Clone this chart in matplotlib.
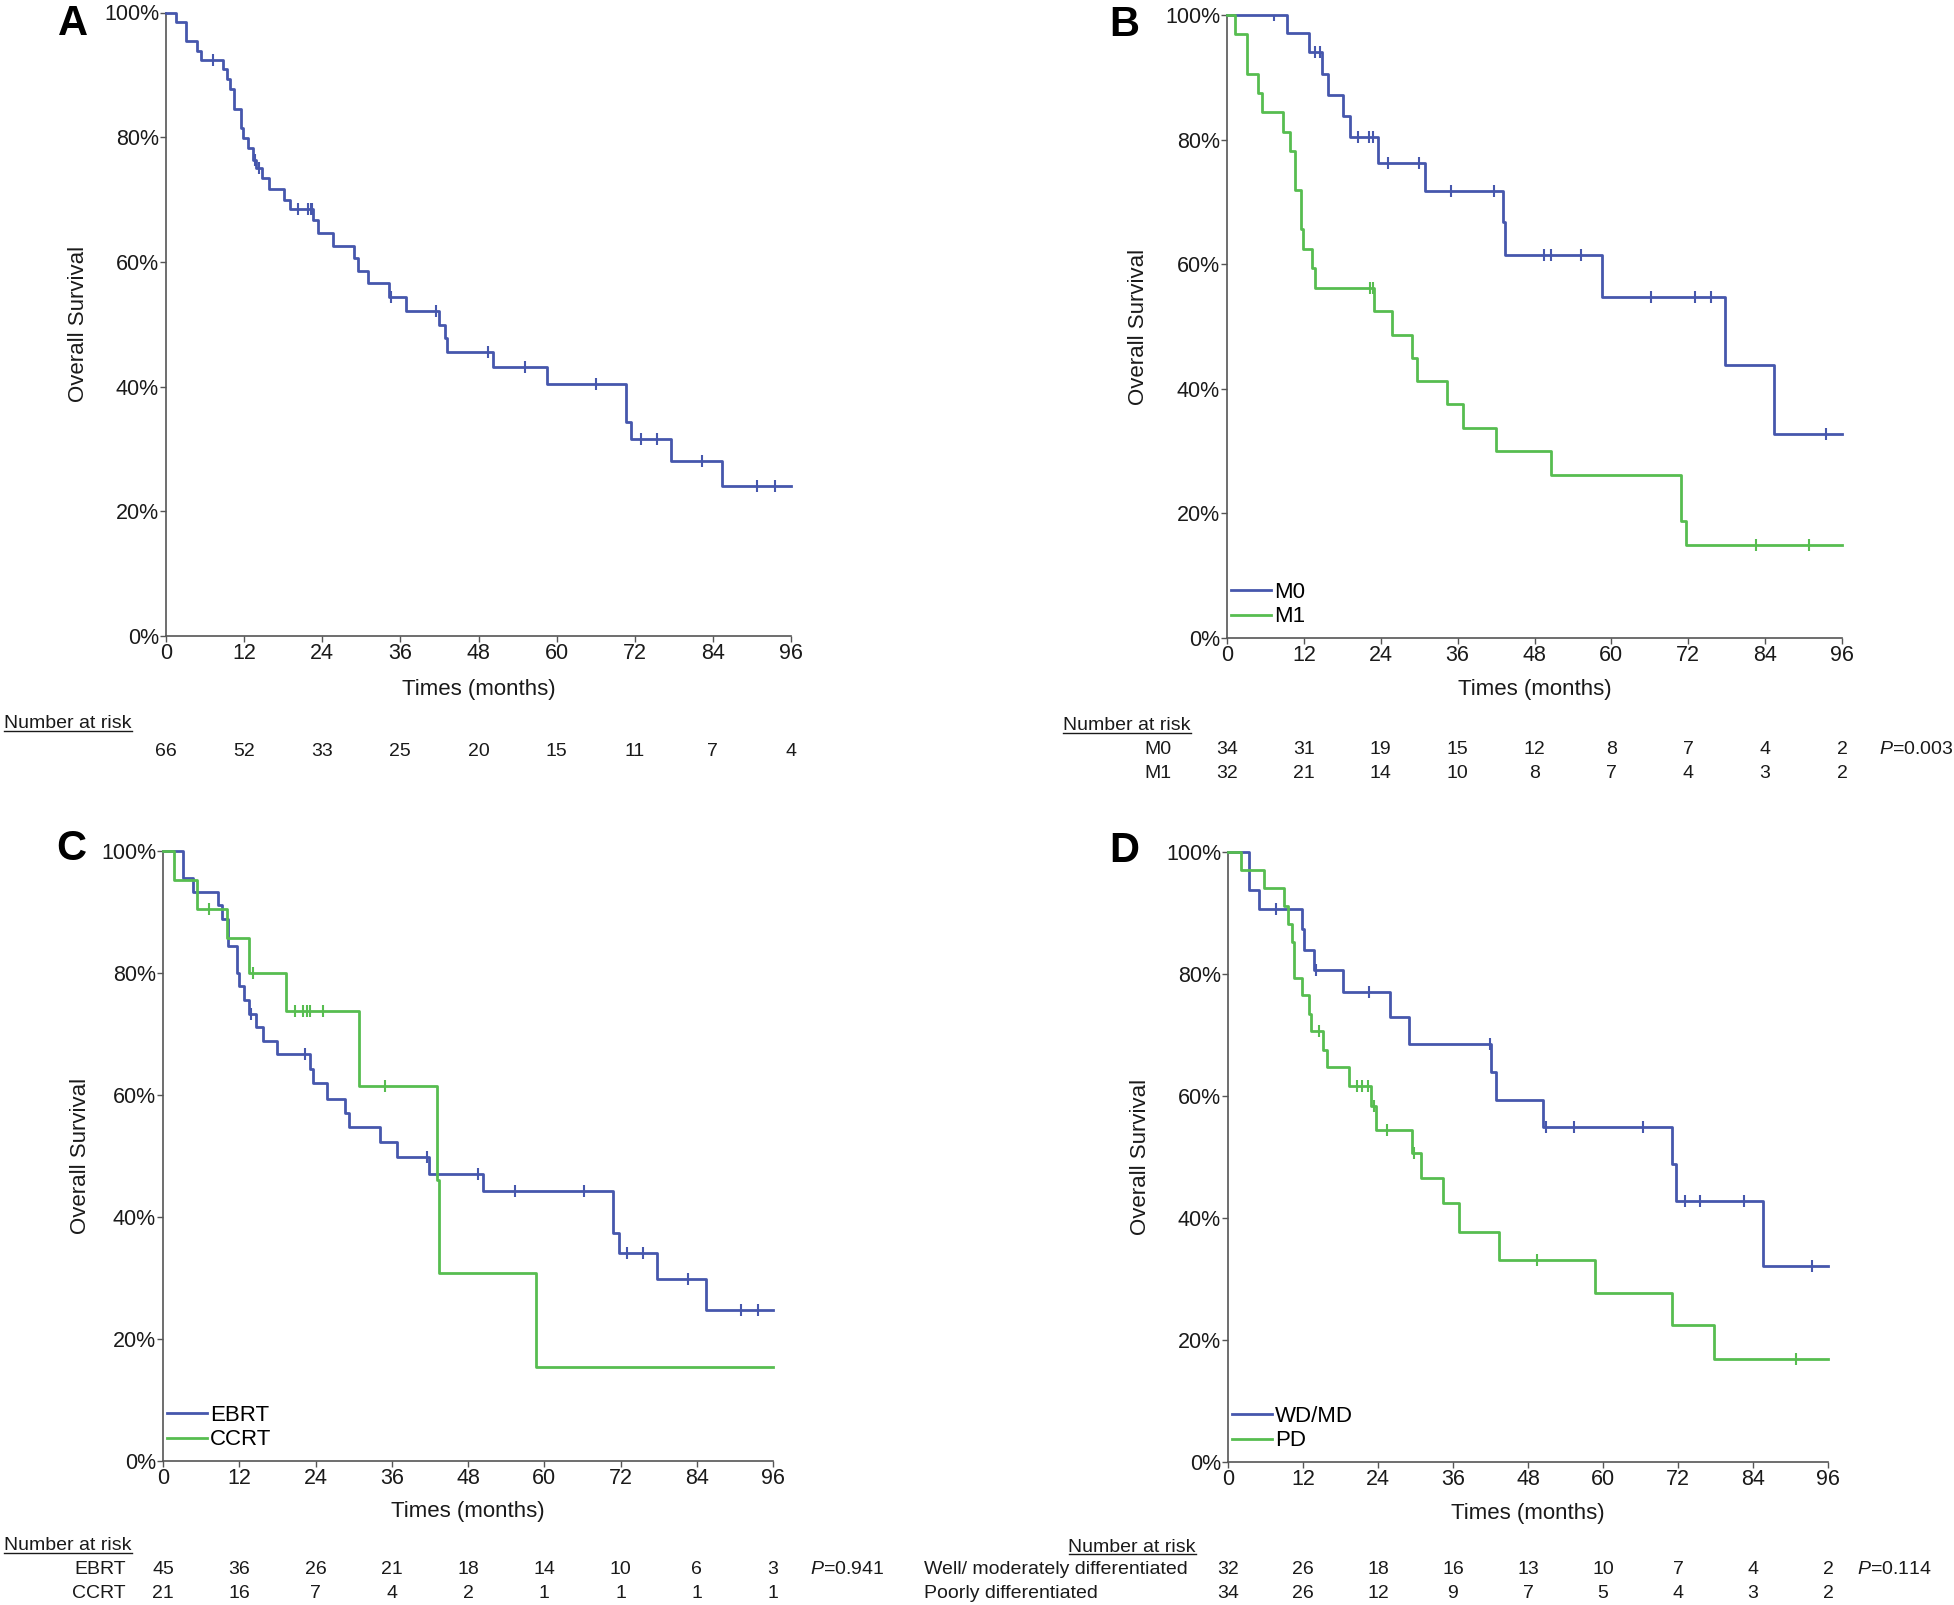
import numpy as np
import matplotlib.pyplot as plt
from matplotlib.transforms import blended_transform_factory
from matplotlib.lines import Line2D

plt.rcParams['font.family'] = ['Liberation Sans', 'DejaVu Sans']
plt.rcParams['mathtext.fontset'] = 'custom'
plt.rcParams['mathtext.it'] = 'Liberation Sans:italic'
plt.rcParams['mathtext.rm'] = 'Liberation Sans'

BLUE = '#4657ad'
GREEN = '#57bd50'

# ---- data (months, survival %) ----
months = [0, 12, 24, 36, 48, 60, 72, 84, 96]

# A: all patients
a_t = [0, 1.6, 3.1, 4.8, 5.4, 8.8, 9.4, 9.9, 10.4, 11.5, 11.9, 12.6, 13.4, 13.8, 14.8, 15.8,
       18.2, 19.0, 22.6, 23.4, 25.6, 28.9, 29.5, 31.0, 34.2, 36.9, 41.9, 42.8, 43.2, 50.3,
       58.5, 70.7, 71.5, 77.5, 85.4]
a_s = [100, 98.5, 95.5, 93.9, 92.4, 90.9, 89.3, 87.7, 84.5, 81.5, 79.8, 78.2, 76.4, 75.1, 73.5, 71.7,
       70.0, 68.5, 66.7, 64.6, 62.6, 60.6, 58.6, 56.6, 54.3, 52.2, 49.8, 47.8, 45.5, 43.1,
       40.4, 34.3, 31.6, 28.1, 24.0]
a_cens = [7.2, 13.6, 14.3, 20.2, 21.8, 22.2, 22.5, 34.6, 41.5, 49.5, 55.1, 66.1, 73.0, 75.4, 82.4, 90.8, 93.6]
a_risk = [66, 52, 33, 25, 20, 15, 11, 7, 4]

# B: M0 / M1
m0_t = [0, 9.4, 12.8, 14.9, 15.7, 18.1, 19.2, 23.5, 30.9, 43.1, 43.4, 58.5, 77.7, 85.4]
m0_s = [100, 97.1, 94.1, 90.6, 87.2, 83.8, 80.4, 76.3, 71.7, 66.8, 61.5, 54.7, 43.8, 32.8]
m0_cens = [7.4, 13.7, 14.5, 20.5, 22.1, 22.8, 25.2, 30.0, 35.0, 41.6, 49.5, 50.5, 55.3, 66.2, 73.1, 75.5, 93.5]
m1_t = [0, 1.3, 3.1, 4.9, 5.4, 8.8, 9.9, 10.6, 11.5, 11.9, 13.3, 13.7, 23.0, 25.8, 28.8, 29.6,
        34.4, 36.8, 42.0, 50.5, 70.9, 71.6]
m1_s = [100, 96.9, 90.6, 87.5, 84.4, 81.3, 78.1, 71.9, 65.6, 62.5, 59.4, 56.2, 52.5, 48.7, 45.0, 41.2,
        37.5, 33.7, 30.0, 26.2, 18.7, 15.0]
m1_cens = [22.3, 22.8, 82.5, 90.8]
m0_risk = [34, 31, 19, 15, 12, 8, 7, 4, 2]
m1_risk = [32, 21, 14, 10, 8, 7, 4, 3, 2]

# C: EBRT / CCRT
ebrt_t = [0, 3.1, 4.7, 8.7, 9.3, 10.3, 11.6, 12.0, 12.8, 13.6, 14.6, 15.7, 17.9, 23.1, 23.6, 25.8,
          28.7, 29.3, 34.1, 36.9, 41.9, 50.4, 70.8, 71.7, 77.7, 85.5]
ebrt_s = [100, 95.6, 93.3, 91.1, 88.9, 84.4, 80.0, 77.8, 75.6, 73.3, 71.1, 68.9, 66.7, 64.2, 61.9, 59.4,
          57.0, 54.7, 52.3, 49.9, 47.1, 44.2, 37.4, 34.1, 29.9, 24.8]
ebrt_cens = [13.8, 22.3, 41.6, 49.6, 55.4, 66.3, 73.1, 75.5, 82.6, 90.9, 93.6]
ccrt_t = [0, 1.7, 5.4, 10.1, 13.5, 19.3, 30.8, 43.1, 43.4, 58.7]
ccrt_s = [100, 95.2, 90.5, 85.7, 80.0, 73.7, 61.4, 46.1, 30.8, 15.4]
ccrt_cens = [7.2, 14.2, 20.7, 22.1, 22.7, 23.1, 25.2, 35.0]
ebrt_risk = [45, 36, 26, 21, 18, 14, 10, 6, 3]
ccrt_risk = [21, 16, 7, 4, 2, 1, 1, 1, 1]

# D: WD/MD / PD
wd_t = [0, 3.4, 5.0, 11.9, 12.2, 13.8, 18.4, 25.9, 28.9, 42.0, 42.9, 50.4, 71.0, 71.7, 85.6]
wd_s = [100, 93.8, 90.6, 87.3, 84.0, 80.7, 77.0, 72.9, 68.6, 64.0, 59.4, 55.0, 48.9, 42.8, 32.1]
wd_cens = [7.6, 14.1, 22.6, 41.9, 50.9, 55.3, 66.4, 73.1, 75.5, 82.6, 93.5]
pd_t = [0, 2.0, 5.7, 9.0, 9.6, 10.2, 10.6, 11.8, 12.9, 13.3, 15.2, 15.9, 19.4, 22.9, 23.6, 29.5,
        30.9, 34.4, 37.0, 43.4, 58.7, 71.0, 77.8]
pd_s = [100, 97.1, 94.1, 91.2, 88.2, 85.3, 79.4, 76.5, 73.5, 70.6, 67.6, 64.7, 61.6, 58.3, 54.5, 50.7,
        46.6, 42.4, 37.7, 33.1, 27.7, 22.4, 16.9]
pd_cens = [14.5, 20.6, 21.5, 22.4, 23.3, 25.4, 29.7, 49.4, 90.9]
wd_risk = [32, 26, 18, 16, 13, 10, 7, 4, 2]
pd_risk = [34, 26, 12, 9, 7, 5, 4, 3, 2]

W, H = 1954, 1605
fig = plt.figure(figsize=(W / 100, H / 100), dpi=100)


def fx(px):
    return px / W


def fy(py):
    return 1 - py / H


def make_axes(l, t, r, b):
    ax = fig.add_axes([fx(l), fy(b), (r - l) / W, (b - t) / H])
    ax.set_xlim(0, 96)
    ax.set_ylim(0, 100)
    ax.set_xticks(months)
    ax.set_yticks([0, 20, 40, 60, 80, 100])
    ax.set_yticklabels(['0%', '20%', '40%', '60%', '80%', '100%'])
    for s in ['top', 'right']:
        ax.spines[s].set_visible(False)
    for s in ['left', 'bottom']:
        ax.spines[s].set_color('#555555')
        ax.spines[s].set_linewidth(1.2)
    ax.tick_params(direction='out', length=4, width=1, color='#555555',
                   labelsize=15.5, labelcolor='#1a1a1a', pad=1)
    return ax


def km(ax, t, s, cens, color, label=None):
    tt = list(t) + [96]
    ss = list(s) + [s[-1]]
    ax.step(tt, ss, where='post', color=color, lw=2, clip_on=False, label=label, zorder=3)
    idx = np.searchsorted(t, cens, side='right') - 1
    ax.plot(cens, np.array(s)[idx], ls='none', marker='|', ms=8, mew=1.5, color=color, zorder=3)


def labels(ax, letter, lx, ly, ylab_x, xlab_y):
    pos = ax.get_position()
    fig.text(fx(lx), fy(ly), letter, fontsize=30, fontweight='bold', ha='center', va='center')
    fig.text(fx(ylab_x), (pos.y0 + pos.y1) / 2, 'Overall Survival', rotation=90,
             fontsize=16, ha='center', va='center', color='#1a1a1a')
    fig.text((pos.x0 + pos.x1) / 2, fy(xlab_y), 'Times (months)', fontsize=16,
             ha='center', va='center', color='#1a1a1a')


def risk_row(ax, values, ypx):
    tr = blended_transform_factory(ax.transData, fig.transFigure)
    for m, v in zip(months, values):
        fig.text(m, fy(ypx), str(v), transform=tr, ha='center', va='center',
                 fontsize=14, color='#1a1a1a')


under = []


def risk_title(xpx, ypx, ha='left'):
    t = fig.text(fx(xpx), fy(ypx), 'Number at risk', ha=ha, va='center', fontsize=14, color='#1a1a1a')
    under.append(t)


def side_text(xpx, ypx, txt, ha='left'):
    fig.text(fx(xpx), fy(ypx), txt, ha=ha, va='center', fontsize=14, color='#1a1a1a')


# ---- A ----
axA = make_axes(166, 12.5, 791, 636)
km(axA, a_t, a_s, a_cens, BLUE)
labels(axA, 'A', 73, 24, 79, 689)
risk_title(4, 724)
risk_row(axA, a_risk, 751)

# ---- B ----
axB = make_axes(1227, 15, 1842, 638)
km(axB, m0_t, m0_s, m0_cens, BLUE, 'M0')
km(axB, m1_t, m1_s, m1_cens, GREEN, 'M1')
labels(axB, 'B', 1124, 25, 1138, 689)
risk_title(1063, 726)
side_text(1172, 749, 'M0', ha='right')
side_text(1172, 773, 'M1', ha='right')
risk_row(axB, m0_risk, 749)
risk_row(axB, m1_risk, 773)
side_text(1879, 749, r'$P$=0.003')

# ---- C ----
axC = make_axes(163, 851, 773, 1461)
km(axC, ebrt_t, ebrt_s, ebrt_cens, BLUE, 'EBRT')
km(axC, ccrt_t, ccrt_s, ccrt_cens, GREEN, 'CCRT')
labels(axC, 'C', 71, 849, 80, 1512)
risk_title(4, 1546)
side_text(126, 1570, 'EBRT', ha='right')
side_text(126, 1593, 'CCRT', ha='right')
risk_row(axC, ebrt_risk, 1570)
risk_row(axC, ccrt_risk, 1593)
side_text(810, 1570, r'$P$=0.941')

# ---- D ----
axD = make_axes(1228, 852, 1828, 1462)
km(axD, wd_t, wd_s, wd_cens, BLUE, 'WD/MD')
km(axD, pd_t, pd_s, pd_cens, GREEN, 'PD')
labels(axD, 'D', 1124, 851, 1140, 1513)
risk_title(1196, 1547, ha='right')
side_text(924, 1570, 'Well/ moderately differentiated')
side_text(924, 1593, 'Poorly differentiated')
risk_row(axD, wd_risk, 1570)
risk_row(axD, pd_risk, 1593)
side_text(1857, 1570, r'$P$=0.114')

for ax in [axB, axC, axD]:
    ax.legend(loc='lower left', bbox_to_anchor=(0.0, 0.01), frameon=False, fontsize=16,
              handlelength=1.8, handletextpad=0.1, labelspacing=0.15, borderpad=0.2,
              borderaxespad=0)

# underline "Number at risk"
fig.canvas.draw()
rend = fig.canvas.get_renderer()
for t in under:
    bb = t.get_window_extent(rend).transformed(fig.transFigure.inverted())
    fig.add_artist(Line2D([bb.x0, bb.x1], [bb.y0 + 0.001, bb.y0 + 0.001], lw=1, color='#1a1a1a'))

fig.savefig('out.png', dpi=100, facecolor='white')
